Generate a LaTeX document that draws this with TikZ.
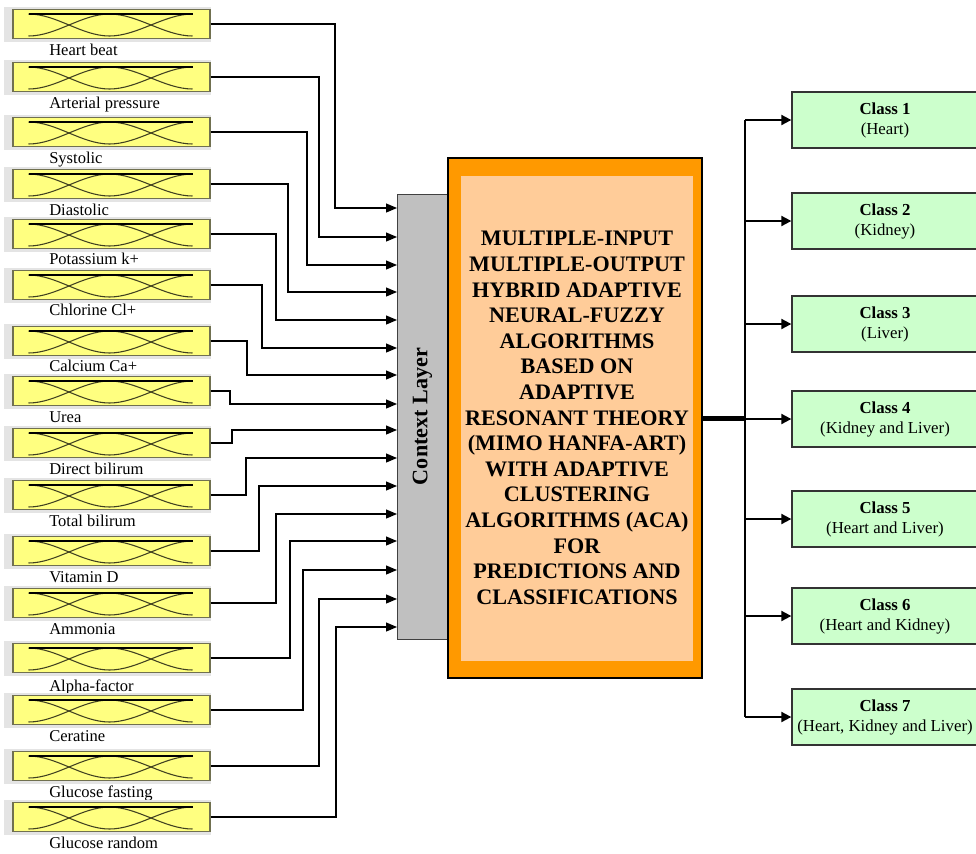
\documentclass[tikz,border=0pt]{standalone}
\usepackage{fontspec}
\usepackage{graphicx}
\setmainfont{Liberation Serif}
\usetikzlibrary{arrows.meta}

\definecolor{mfyellow}{RGB}{255,255,128}
\definecolor{mfedge}{RGB}{112,112,80}
\definecolor{mfink}{RGB}{64,64,32}
\definecolor{framegrey}{RGB}{228,228,228}
\definecolor{ctxgrey}{RGB}{192,192,192}
\definecolor{hanfaorange}{RGB}{255,153,0}
\definecolor{hanfapeach}{RGB}{255,204,153}
\definecolor{classgreen}{RGB}{204,255,204}

% membership functions drawn inside an input box
\tikzset{
  mf/.pic={
    \draw[mfink, line width=0.8pt] (-83,-12) .. controls (-55,-12) and (-30,10) .. (-2,10);
    \draw[mfink, line width=0.8pt] (-83,10) .. controls (-55,10) and (-30,-12) .. (-2,-12) .. controls (26,-12) and (53,10) .. (81,10);
    \draw[mfink, line width=0.8pt] (-2,10) .. controls (26,10) and (53,-12) .. (81,-12);
    \draw[black, line width=1.4pt] (-83,10) -- (81,10);
  }
}

\begin{document}
\begin{tikzpicture}[x=0.75pt,y=0.75pt,yscale=-1,xscale=1,
  mfbox/.style={draw=mfedge, line width=0.9pt, fill=mfyellow, minimum width=147.75pt, minimum height=21.75pt, inner sep=0pt},
  mflabel/.style={anchor=base west, inner sep=0pt, font=\fontsize{12.4}{14}\selectfont},
  inflow/.style={line width=0.9pt, -{Triangle[length=8.25pt,width=6.75pt]}},
  outflow/.style={line width=1.5pt, -{Triangle[length=7.5pt,width=7.5pt]}},
  classbox/.style={draw=black!80, line width=1pt, fill=classgreen, minimum width=139.5pt, minimum height=42pt, inner sep=0pt, align=center, font=\fontsize{12.6}{15}\selectfont}]
\useasboundingbox (0,0) rectangle (976,854);

%Inputs: frame, fuzzy box, label
\fill[framegrey] (4,6.5) rectangle (211,41.5);
\node[mfbox] (in1) at (111.5,24) {}; \pic at (in1) {mf};
\node[mflabel] (lb1) at (49,55) {Heart beat};
\fill[framegrey] (4,59.5) rectangle (211,94.5);
\node[mfbox] (in2) at (111.5,77) {}; \pic at (in2) {mf};
\node[mflabel] (lb2) at (49,108) {Arterial pressure};
\fill[framegrey] (4,114.5) rectangle (211,149.5);
\node[mfbox] (in3) at (111.5,132) {}; \pic at (in3) {mf};
\node[mflabel] (lb3) at (49,163) {Systolic};
\fill[framegrey] (4,166.5) rectangle (211,201.5);
\node[mfbox] (in4) at (111.5,184) {}; \pic at (in4) {mf};
\node[mflabel] (lb4) at (49,215) {Diastolic};
\fill[framegrey] (4,216.5) rectangle (211,251.5);
\node[mfbox] (in5) at (111.5,234) {}; \pic at (in5) {mf};
\node[mflabel] (lb5) at (49,264) {Potassium k+};
\fill[framegrey] (4,267.5) rectangle (211,302.5);
\node[mfbox] (in6) at (111.5,285) {}; \pic at (in6) {mf};
\node[mflabel] (lb6) at (49,315) {Chlorine Cl+};
\fill[framegrey] (4,323.5) rectangle (211,358.5);
\node[mfbox] (in7) at (111.5,341) {}; \pic at (in7) {mf};
\node[mflabel] (lb7) at (49,371) {Calcium Ca+};
\fill[framegrey] (4,373.5) rectangle (211,408.5);
\node[mfbox] (in8) at (111.5,391) {}; \pic at (in8) {mf};
\node[mflabel] (lb8) at (49,422) {Urea};
\fill[framegrey] (4,425.5) rectangle (211,460.5);
\node[mfbox] (in9) at (111.5,443) {}; \pic at (in9) {mf};
\node[mflabel] (lb9) at (49,474) {Direct bilirum};
\fill[framegrey] (4,477.5) rectangle (211,512.5);
\node[mfbox] (in10) at (111.5,495) {}; \pic at (in10) {mf};
\node[mflabel] (lb10) at (49,526) {Total bilirum};
\fill[framegrey] (4,533.5) rectangle (211,568.5);
\node[mfbox] (in11) at (111.5,551) {}; \pic at (in11) {mf};
\node[mflabel] (lb11) at (49,582) {Vitamin D};
\fill[framegrey] (4,585.5) rectangle (211,620.5);
\node[mfbox] (in12) at (111.5,603) {}; \pic at (in12) {mf};
\node[mflabel] (lb12) at (49,634) {Ammonia};
\fill[framegrey] (4,640.5) rectangle (211,675.5);
\node[mfbox] (in13) at (111.5,658) {}; \pic at (in13) {mf};
\node[mflabel] (lb13) at (49,691) {Alpha-factor};
\fill[framegrey] (4,692.5) rectangle (211,727.5);
\node[mfbox] (in14) at (111.5,710) {}; \pic at (in14) {mf};
\node[mflabel] (lb14) at (49,741) {Ceratine};
\fill[framegrey] (4,748.5) rectangle (211,783.5);
\node[mfbox] (in15) at (111.5,766) {}; \pic at (in15) {mf};
\node[mflabel] (lb15) at (49,797) {Glucose fasting};
\fill[framegrey] (4,799.5) rectangle (211,834.5);
\node[mfbox] (in16) at (111.5,817) {}; \pic at (in16) {mf};
\node[mflabel] (lb16) at (49,848) {Glucose random};

%Context layer
\node[draw=black!75, line width=0.75pt, fill=ctxgrey, minimum width=38.25pt, minimum height=333.75pt, inner sep=0pt] (ctx) at (422.5,416.5) {\rotatebox{90}{\bfseries\fontsize{16.6}{19}\selectfont Context Layer}};

%Main block
\node[draw=black, line width=1.9pt, fill=hanfaorange, minimum width=190.5pt, minimum height=390pt, inner sep=0pt] (hanfa) at (575,418) {};
\node[fill=hanfapeach, minimum width=174pt, minimum height=363.75pt, inner sep=0pt, align=center, font=\bfseries\fontsize{16.6}{19.2}\selectfont] (hanfatext) at (577,418) {MULTIPLE-INPUT\\MULTIPLE-OUTPUT\\HYBRID ADAPTIVE\\NEURAL-FUZZY\\ALGORITHMS\\BASED ON\\ADAPTIVE\\RESONANT THEORY\\(MIMO HANFA-ART)\\WITH ADAPTIVE\\CLUSTERING\\ALGORITHMS (ACA)\\FOR\\PREDICTIONS AND\\CLASSIFICATIONS};

%Arrow ends on the context layer
\coordinate (c1) at (397,208);
\coordinate (c2) at (397,237);
\coordinate (c3) at (397,265);
\coordinate (c4) at (397,292);
\coordinate (c5) at (397,320);
\coordinate (c6) at (397,348);
\coordinate (c7) at (397,375);
\coordinate (c8) at (397,404);
\coordinate (c9) at (397,430);
\coordinate (c10) at (397,458);
\coordinate (c11) at (397,486);
\coordinate (c12) at (397,514);
\coordinate (c13) at (397,541);
\coordinate (c14) at (397,570);
\coordinate (c15) at (397,599);
\coordinate (c16) at (397,627);

%Input connectors
\draw[inflow] (in1.east) -| (335,208) -- (c1);
\draw[inflow] (in2.east) -| (319,237) -- (c2);
\draw[inflow] (in3.east) -| (307,265) -- (c3);
\draw[inflow] (in4.east) -| (288,292) -- (c4);
\draw[inflow] (in5.east) -| (276,320) -- (c5);
\draw[inflow] (in6.east) -| (262,348) -- (c6);
\draw[inflow] (in7.east) -| (247,375) -- (c7);
\draw[inflow] (in8.east) -| (230,404) -- (c8);
\draw[inflow] (in9.east) -| (232,430) -- (c9);
\draw[inflow] (in10.east) -| (246,458) -- (c10);
\draw[inflow] (in11.east) -| (259,486) -- (c11);
\draw[inflow] (in12.east) -| (276,514) -- (c12);
\draw[inflow] (in13.east) -| (290,541) -- (c13);
\draw[inflow] (in14.east) -| (303,570) -- (c14);
\draw[inflow] (in15.east) -| (319,599) -- (c15);
\draw[inflow] (in16.east) -| (336,627) -- (c16);

%Output classes
\node[classbox] (k1) at (885,120) {\textbf{Class 1}\\(Heart)};
\node[classbox] (k2) at (885,221) {\textbf{Class 2}\\(Kidney)};
\node[classbox] (k3) at (885,324) {\textbf{Class 3}\\(Liver)};
\node[classbox] (k4) at (885,419) {\textbf{Class 4}\\(Kidney and Liver)};
\node[classbox] (k5) at (885,519) {\textbf{Class 5}\\(Heart and Liver)};
\node[classbox] (k6) at (885,616) {\textbf{Class 6}\\(Heart and Kidney)};
\node[classbox] (k7) at (885,717) {\textbf{Class 7}\\(Heart, Kidney and Liver)};

%Output bus
\coordinate (bustop) at (745,120);
\coordinate (busbot) at (745,717);
\draw[line width=1.5pt] (bustop) -- (busbot);
\draw[line width=3.75pt] (hanfa.east) -- (hanfa.east -| bustop);
\draw[outflow] (bustop) -- (k1.west);
\draw[outflow] (k2.west -| bustop) -- (k2.west);
\draw[outflow] (k3.west -| bustop) -- (k3.west);
\draw[outflow] (k4.west -| bustop) -- (k4.west);
\draw[outflow] (k5.west -| bustop) -- (k5.west);
\draw[outflow] (k6.west -| bustop) -- (k6.west);
\draw[outflow] (busbot) -- (k7.west);

\end{tikzpicture}
\end{document}
